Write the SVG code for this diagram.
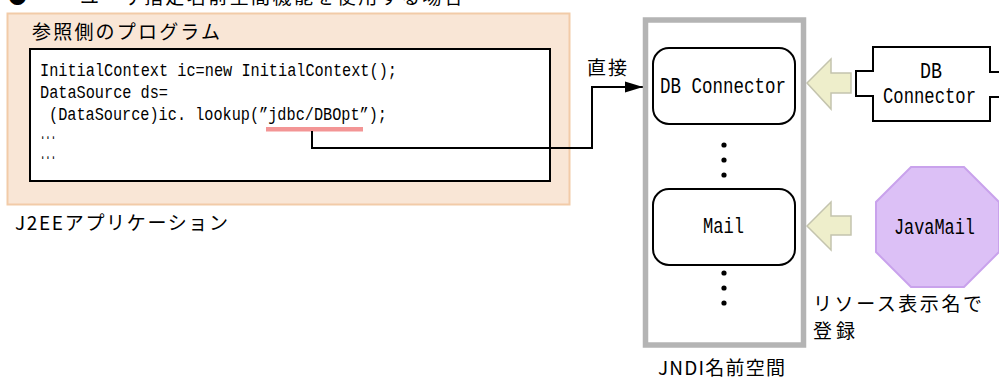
<svg xmlns="http://www.w3.org/2000/svg" width="999" height="379" viewBox="0 0 999 379">
<style>
.jp{font-family:"Noto Sans CJK JP","Noto Sans CJK SC",sans-serif;font-size:19px;fill:#000}
.mono{font-family:"Liberation Mono","DejaVu Sans Mono",monospace;fill:#000}
.code{font-size:18px}
.lbl{font-size:21.5px}
.box{fill:#fff;stroke:#000;stroke-width:2}
.yarrow{fill:#eeeecb;stroke:#c4c4ae;stroke-width:1.5}
.conn{fill:none;stroke:#000;stroke-width:2}
.dot{fill:#000}
</style>
<defs>
<marker id="ah" markerUnits="userSpaceOnUse" markerWidth="19" markerHeight="12" refX="18" refY="6" orient="auto">
<path d="M0,0.5 L18,6 L0,11.5 z" fill="#000"/>
</marker>
</defs>
<rect width="999" height="379" fill="#fff"/>

<text class="jp" x="8" y="3.5" font-size="20">●</text>
<text class="jp" x="80" y="3.5" font-size="20" textLength="383" lengthAdjust="spacing">ユーザ指定名前空間機能を使用する場合</text>

<g id="app">
<rect x="7.5" y="13.5" width="562" height="191" fill="#f9e6d6" stroke="#f2cba8" stroke-width="2"/>
<text class="jp" x="32" y="39" font-size="20" textLength="188" lengthAdjust="spacing">参照側のプログラム</text>
<text class="jp" x="15" y="230" textLength="213" lengthAdjust="spacing">J2EEアプリケーション</text>
</g>

<g id="program">
<rect class="box" x="30" y="49" width="520" height="132"/>
<text class="mono code" x="40" y="76" textLength="357" lengthAdjust="spacingAndGlyphs">InitialContext ic=new InitialContext();</text>
<text class="mono code" x="40" y="98" textLength="128" lengthAdjust="spacingAndGlyphs">DataSource ds=</text>
<text class="mono code" x="49" y="120" textLength="338" lengthAdjust="spacingAndGlyphs">(DataSource)ic. lookup(”jdbc/DBOpt”);</text>
<text class="mono code" x="40" y="139" font-size="15" textLength="16" lengthAdjust="spacingAndGlyphs">...</text>
<text class="mono code" x="40" y="159" font-size="15" textLength="16" lengthAdjust="spacingAndGlyphs">...</text>
<rect x="266" y="127" width="97" height="4.5" fill="#f39595"/>
</g>

<g id="connectors">
<path class="conn" d="M312,131 V148 H592 V87 H643" marker-end="url(#ah)"/>
<text class="jp" x="587" y="75" textLength="40" lengthAdjust="spacing">直接</text>
<polygon class="yarrow" points="807,83 831,59 831,73 851,73 851,93 831,93 831,109"/>
<polygon class="yarrow" points="807,226 831,202 831,216 851,216 851,235 831,235 831,250"/>
</g>

<g id="jndi">
<rect x="645.5" y="20" width="158" height="325" fill="none" stroke="#b4b4b4" stroke-width="5.5"/>
<text class="jp" x="658" y="375" textLength="127" lengthAdjust="spacing">JNDI名前空間</text>
<circle class="dot" cx="724" cy="145" r="2.6"/>
<circle class="dot" cx="724" cy="160" r="2.6"/>
<circle class="dot" cx="724" cy="175" r="2.6"/>
<circle class="dot" cx="724" cy="273" r="2.6"/>
<circle class="dot" cx="724" cy="288" r="2.6"/>
<circle class="dot" cx="724" cy="303" r="2.6"/>
</g>

<g id="jndi-db">
<rect class="box" x="653" y="48" width="142" height="76" rx="16" ry="16"/>
<text class="mono lbl" x="660" y="93" textLength="126" lengthAdjust="spacingAndGlyphs">DB Connector</text>
</g>

<g id="jndi-mail">
<rect class="box" x="653" y="189" width="142" height="76" rx="16" ry="16"/>
<text class="mono lbl" x="703" y="233" textLength="41" lengthAdjust="spacingAndGlyphs">Mail</text>
</g>

<g id="db-connector">
<path d="M873,47 H990 V72 H1010 V97 H990 V121 H873 V96 H856 V71 H873 Z" fill="#fff" stroke="#000" stroke-width="2"/>
<text class="mono lbl" x="920" y="78" textLength="22" lengthAdjust="spacingAndGlyphs">DB</text>
<text class="mono lbl" x="883" y="103" textLength="93" lengthAdjust="spacingAndGlyphs">Connector</text>
</g>

<g id="javamail">
<polygon points="911,167 964,167 999,202 999,252 964,287 911,287 876,252 876,202" fill="#dcc0f6" stroke="#c9a2ec" stroke-width="2"/>
<text class="mono lbl" x="894" y="234" textLength="81" lengthAdjust="spacingAndGlyphs">JavaMail</text>
</g>

<g id="note">
<text class="jp" x="813" y="311" textLength="169" lengthAdjust="spacing">リソース表示名で</text>
<text class="jp" x="813" y="338" textLength="42" lengthAdjust="spacing">登録</text>
</g>
</svg>
